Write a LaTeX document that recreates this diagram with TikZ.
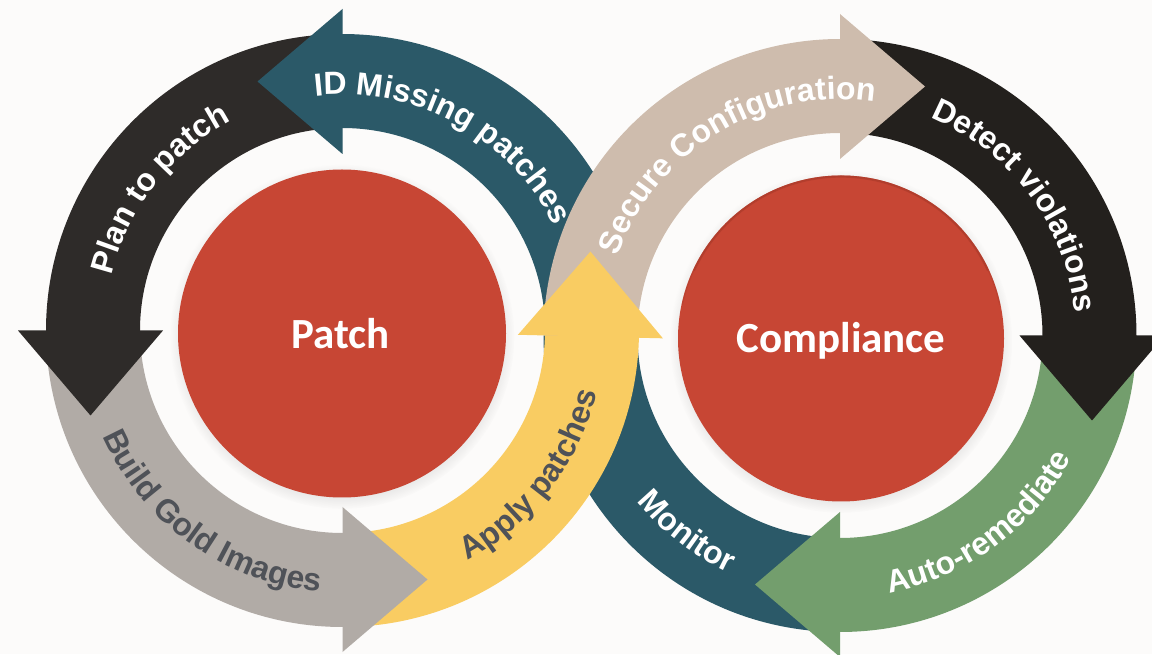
\documentclass[tikz,border=0pt]{standalone}
\usepackage{fontspec}
\setmainfont{Liberation Sans}
\newfontfamily\circfam{Carlito}
\usetikzlibrary{calc,decorations.text,shadows,fadings}
\definecolor{bgc}{HTML}{FCFBFA}
\definecolor{tealc}{HTML}{2B5968}
\definecolor{blackl}{HTML}{2E2B29}
\definecolor{blackr}{HTML}{23201D}
\definecolor{greyc}{HTML}{B1ABA6}
\definecolor{yellowc}{HTML}{F9CC62}
\definecolor{beigec}{HTML}{CEBCAD}
\definecolor{greenc}{HTML}{739E6D}
\definecolor{redc}{HTML}{C74634}
\definecolor{redrim}{HTML}{A93A2A}
\definecolor{darktext}{HTML}{4F5258}
\newcommand\arcfont{\fontsize{32}{32}\selectfont\bfseries}
\newcommand\circfont{\circfam\bfseries\fontsize{43}{43}\selectfont}
% band: center, from angle, to angle, colour
\newcommand\band[4]{%
  \fill[#4] ($(#1)+(#2:296.5pt)$) arc[start angle=#2,end angle=#3,radius=296.5pt]
    -- ($(#1)+(#3:202.5pt)$) arc[start angle=#3,end angle=#2,radius=202.5pt] -- cycle;}
% arrow head: center, base angle, inner r, outer r, mid r, tip direction, colour
\newcommand\ahead[7]{%
  \fill[#7] ($(#1)+(#2:#3pt)$) -- ($(#1)+(#2:#4pt)$) -- ($(#1)+(#2:#5pt)+(#6:85pt)$) -- cycle;}
\tikzset{
  circ/.style={circle,fill=redc,inner sep=0pt,
    circular drop shadow={shadow xshift=0pt,shadow yshift=-3pt,shadow scale=1.05,opacity=0.3}},
  toptext/.style={decorate,decoration={text along path,text align=center,text color=#1}},
}
\begin{document}
\begin{tikzpicture}[x=1pt,y=1pt]
\useasboundingbox (0,0) rectangle (1152,654);
\fill[bgc] (0,0) rectangle (1152,654);
\coordinate (L) at (342.5,323.5);
\coordinate (R) at (840,318.5);
% bodies: each starts hidden under the previous head and runs a little under its own head
\band{L}{0}{91.5}{tealc}
\band{R}{180}{268}{tealc}
\band{L}{92}{181.5}{blackl}
\band{L}{182}{271.5}{greyc}
\band{L}{272}{360.3}{yellowc}
\band{R}{88.5}{180}{beigec}
\band{R}{-1.5}{88}{blackr}
\band{R}{-91.5}{-2}{greenc}
% arrow heads
\ahead{L}{90}{176.5}{321.5}{249}{180}{tealc}
\ahead{L}{180}{179.5}{324.5}{252}{270}{blackl}
\ahead{L}{270}{176.5}{321.5}{249}{0}{greyc}
\ahead{L}{-1.4}{175.5}{320.5}{248}{90}{yellowc}
\ahead{R}{90}{176.5}{321.5}{249}{0}{beigec}
\ahead{R}{0}{179.5}{324.5}{252}{-90}{blackr}
\ahead{R}{-90}{176.5}{321.5}{249}{180}{greenc}
% circles
\node[circ,minimum size=328pt] (patch) at (342,320.5) {};
\node[circ,minimum size=326pt] (compl) at (841,315.5) {};
\draw[redrim,line width=2.2pt,opacity=0.55,line cap=round]
  ($(compl.center)+(25:161.9pt)$) arc[start angle=25,end angle=155,radius=161.9pt];
\draw[redrim,line width=1.4pt,opacity=0.35,line cap=round]
  ($(compl.center)+(12:162.3pt)$) arc[start angle=12,end angle=168,radius=162.3pt];
\node[anchor=base,text=white,font=\circfont] (patchlbl) at (340.5,305.7) {Patch};
\node[anchor=base,text=white,font=\circfont] (compllbl) at (841,301.3) {Compliance};
% arc texts (top: clockwise, bottom: counter-clockwise)
\path[toptext=white,decoration={text={|\arcfont|Plan to patch}}]
  ($(L)+(192.2:237pt)$) arc[start angle=192.2,end angle=92.2,radius=237pt];
\path[toptext=white,decoration={text={|\arcfont|ID Missing patches}}]
  ($(L)+(111.5:236pt)$) arc[start angle=111.5,end angle=11.5,radius=236pt];
\path[toptext=darktext,decoration={text={|\arcfont|Build Gold Images}}]
  ($(L)+(184.5:262pt)$) arc[start angle=184.5,end angle=284.5,radius=262pt];
\path[toptext=darktext,decoration={text={|\arcfont|Apply patches}}]
  ($(L)+(-87.6:262pt)$) arc[start angle=-87.6,end angle=12.4,radius=262pt];
\path[toptext=white,decoration={text={|\arcfont|Secure Configuration}}]
  ($(R)+(171:236pt)$) arc[start angle=171,end angle=71,radius=236pt];
\path[toptext=white,decoration={text={|\arcfont|Detect violations}}]
  ($(R)+(86.5:236pt)$) arc[start angle=86.5,end angle=-13.5,radius=236pt];
\path[toptext=white,decoration={text={|\arcfont|Auto-remediate}}]
  ($(R)+(-103.5:262pt)$) arc[start angle=-103.5,end angle=-3.5,radius=262pt];
\path[toptext=white,decoration={text={|\arcfont|Monitor}}]
  ($(R)+(182.1:262pt)$) arc[start angle=182.1,end angle=282.1,radius=262pt];
\end{tikzpicture}
\end{document}
